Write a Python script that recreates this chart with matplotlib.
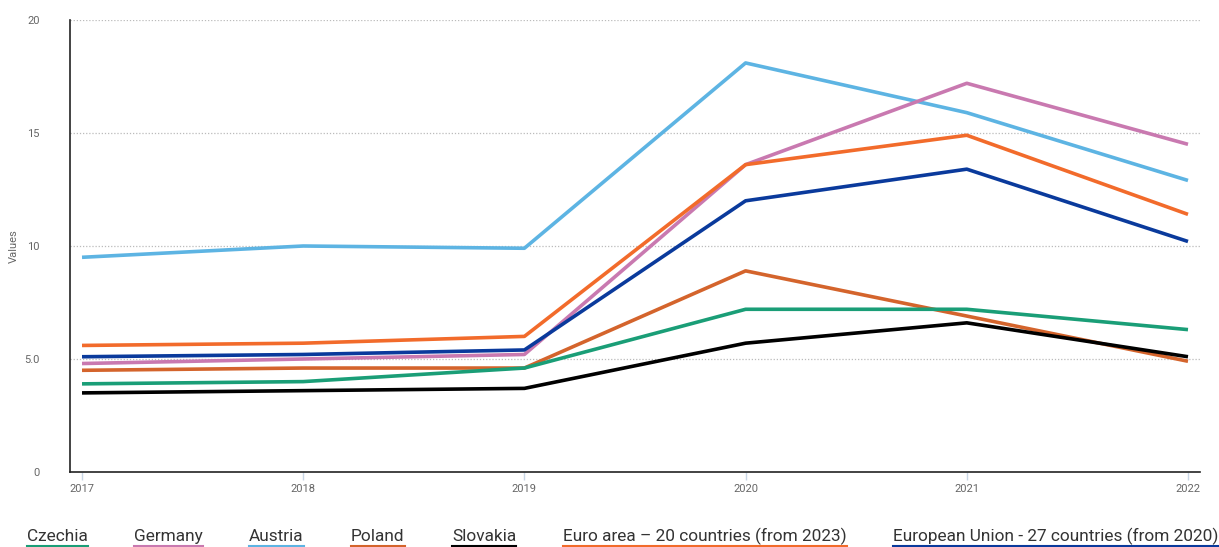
import numpy as np
import matplotlib.pyplot as plt

plt.rcParams['font.family'] = ['Roboto', 'DejaVu Sans']

years = [2017, 2018, 2019, 2020, 2021, 2022]

czechia = [3.9, 4.0, 4.6, 7.2, 7.2, 6.3]
germany = [4.8, 5.0, 5.2, 13.6, 17.2, 14.5]
austria = [9.5, 10.0, 9.9, 18.1, 15.9, 12.9]
poland = [4.5, 4.6, 4.6, 8.9, 6.9, 4.9]
slovakia = [3.5, 3.6, 3.7, 5.7, 6.6, 5.1]
euro_area = [5.6, 5.7, 6.0, 13.6, 14.9, 11.4]
eu27 = [5.1, 5.2, 5.4, 12.0, 13.4, 10.2]

names = ['Czechia', 'Germany', 'Austria', 'Poland', 'Slovakia',
         'Euro area – 20 countries (from 2023)',
         'European Union - 27 countries (from 2020)']
series = [czechia, germany, austria, poland, slovakia, euro_area, eu27]
colors = ['#1a9e77', '#c979b0', '#5db4e3', '#d4642c', '#000000', '#f26b2b', '#0a3a9c']

fig = plt.figure(figsize=(12.19, 5.47), dpi=100)
ax = fig.add_axes([70/1219, 1 - 472/547, 1130/1219, 452/547])

# draw order so black/green sit on top like the original
order = [2, 1, 5, 6, 3, 0, 4]
for i in order:
    ax.plot(years, series[i], color=colors[i], lw=2.6, solid_capstyle='butt', zorder=3)

ax.set_xlim(2017 - 12/221, 2022 + 12/221)
ax.set_ylim(0, 20)
ax.set_yticks([0, 5, 10, 15, 20])
ax.set_yticklabels(['0', '5.0', '10', '15', '20'])
ax.set_xticks(years)
ax.set_xticklabels([str(y) for y in years])

for y in [5, 10, 15, 20]:
    ax.axhline(y, color='#bbbbbb', lw=0.9, ls=(0, (1, 1.5)), zorder=1)

for s in ['top', 'right']:
    ax.spines[s].set_visible(False)
ax.spines['left'].set_color('#222222')
ax.spines['bottom'].set_color('#222222')
ax.spines['left'].set_linewidth(1.2)
ax.spines['bottom'].set_linewidth(1.2)

ax.tick_params(axis='y', length=0, pad=22, labelsize=8, labelcolor='#666666')
ax.tick_params(axis='x', length=6, color='#c8d6e5', width=1, pad=3, labelsize=8, labelcolor='#666666')
ax.set_ylabel('Values', fontsize=8, color='#666666', labelpad=4)

# legend: text with coloured underline
leg_x = [27, 134, 249, 351, 452, 563, 893]
for x, name, c in zip(leg_x, names, colors):
    t = fig.text(x/1219, 1 - 541/547, name, fontsize=12.4, color='#333333', va='baseline', ha='left')
    fig.canvas.draw()
    bb = t.get_window_extent()
    fig.add_artist(plt.Line2D([bb.x0/1219, bb.x1/1219], [1 - 545.5/547, 1 - 545.5/547],
                              color=c, lw=1.5, transform=fig.transFigure))

fig.savefig('out.png', dpi=100)
